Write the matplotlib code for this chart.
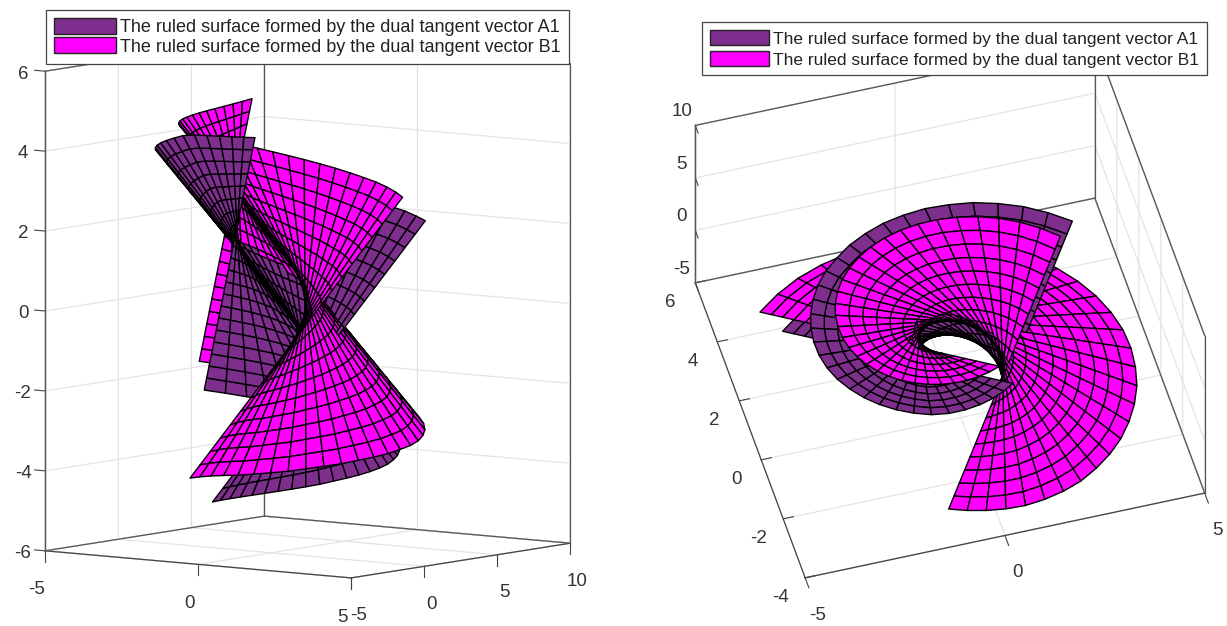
import numpy as np
import matplotlib
matplotlib.use("Agg")
import matplotlib.pyplot as plt
from matplotlib.patches import Patch
from matplotlib.transforms import Affine2D
from mpl_toolkits.mplot3d.art3d import Poly3DCollection

W, H = 1227, 626
plt.rcParams['font.family'] = ['Liberation Sans', 'DejaVu Sans']
plt.rcParams['axes.unicode_minus'] = False

# Ruling stations
curve_x = [.788, .866, .927, .970, .995, .999, .985, .951, .899, .829, .743, .643, .530, .407, .276, .139, 0,
           -.139, -.276, -.407, -.530, -.643, -.743, -.829, -.899, -.951, -.985, -.999, -.995, -.970, -.927, -.866, -.788]
curve_y = [-.616, -.500, -.375, -.242, -.105, .035, .174, .309, .438, .559, .669, .766, .848, .914, .961, .990, 1,
           .990, .961, .914, .848, .766, .669, .559, .438, .309, .174, .035, -.105, -.242, -.375, -.500, -.616]
curve_z_b1 = [-.86, -.72, -.58, -.44, -.31, -.17, -.03, .11, .25, .39, .53, .67, .81, .95, 1.09, 1.23, 1.37,
              1.51, 1.65, 1.79, 1.93, 2.07, 2.21, 2.35, 2.49, 2.63, 2.77, 2.91, 3.05, 3.19, 3.33, 3.47, 3.61]
curve_z_a1 = [-2.20, -2.06, -1.92, -1.78, -1.65, -1.51, -1.37, -1.23, -1.09, -.95, -.81, -.67, -.53, -.39, -.25, -.11, .03,
              .17, .31, .45, .59, .73, .87, 1.01, 1.15, 1.29, 1.43, 1.57, 1.71, 1.85, 1.99, 2.13, 2.27]
dir_x = [.616, .500, .375, .242, .105, -.035, -.174, -.309, -.438, -.559, -.669, -.766, -.848, -.914, -.961, -.990, -1,
         -.990, -.961, -.914, -.848, -.766, -.669, -.559, -.438, -.309, -.174, -.035, .105, .242, .375, .500, .616]
dir_y = [.788, .866, .927, .970, .995, .999, .985, .951, .899, .829, .743, .643, .530, .407, .276, .139, 0,
         -.139, -.276, -.407, -.530, -.643, -.743, -.829, -.899, -.951, -.985, -.999, -.995, -.970, -.927, -.866, -.788]
down_b1 = [3.17, 3.24, 3.32, 3.41, 3.50, 3.58, 3.66, 3.74, 3.80, 3.87, 3.94, 4.00, 4.07, 4.14, 4.20, 4.27, 4.33,
           4.38, 4.43, 4.47, 4.52, 4.57, 4.63, 4.70, 4.77, 4.83, 4.90, 4.97, 5.03, 5.10, 5.17, 5.23, 5.30]
up_b1 = [3.83, 3.77, 3.71, 3.65, 3.59, 3.53, 3.47, 3.41, 3.35, 3.29, 3.23, 3.17, 3.11, 3.05, 2.99, 2.93, 2.87,
         2.80, 2.74, 2.68, 2.62, 2.56, 2.50, 2.44, 2.38, 2.32, 2.26, 2.20, 2.14, 2.08, 2.02, 1.96, 1.90]
down_a1 = [2.43, 2.50, 2.57, 2.64, 2.70, 2.77, 2.84, 2.91, 2.98, 3.05, 3.11, 3.18, 3.25, 3.32, 3.39, 3.46, 3.52,
           3.59, 3.66, 3.73, 3.80, 3.87, 3.93, 4.00, 4.07, 4.14, 4.21, 4.28, 4.34, 4.41, 4.48, 4.55, 4.62]
up_a1 = [4.58, 4.50, 4.43, 4.35, 4.28, 4.20, 4.13, 4.05, 3.98, 3.90, 3.83, 3.75, 3.70, 3.64, 3.58, 3.53, 3.48,
         3.44, 3.40, 3.36, 3.32, 3.27, 3.23, 3.19, 3.15, 3.11, 3.07, 2.98, 2.85, 2.72, 2.58, 2.44, 2.30]

label_a1 = "The ruled surface formed by the dual tangent vector A1"
label_b1 = "The ruled surface formed by the dual tangent vector B1"
color_a1 = "#7E2F8E"
color_b1 = "#FF00FF"
rings = 21

def cells(cz, down, up):
    cx, cy, cz = np.array(curve_x), np.array(curve_y), np.array(cz)
    dx, dy = np.array(dir_x), np.array(dir_y)
    down, up = np.array(down), np.array(up)
    frac = np.linspace(0, 1, rings + 1)[:, None]
    s = -down + frac * (down + up)            # position along each ruling
    X, Y, Z = cx + s * dx, cy + s * dy, cz + s
    out = []
    for i in range(rings):
        for j in range(len(cx) - 1):
            out.append([(X[i, j], Y[i, j], Z[i, j]), (X[i + 1, j], Y[i + 1, j], Z[i + 1, j]),
                        (X[i + 1, j + 1], Y[i + 1, j + 1], Z[i + 1, j + 1]), (X[i, j + 1], Y[i, j + 1], Z[i, j + 1])])
    return out

def nudge(ax, axis, dx, dy):
    """Keep the tick labels native but shift them a few pixels on screen."""
    base = axis.get_major_ticks
    def patched(numticks=None):
        ticks = base(numticks)
        for t in ticks:
            t.label1.set_transform(ax.transData + Affine2D().translate(dx, dy))
        return ticks
    axis.get_major_ticks = patched

def panel(view, aspect, centre, lims, ticks, zside, nudges, tick_dirs, tick_out, back, legend_xy, legend_font, legend_gap):
    aspect = np.array(aspect, float)
    world = 1.8294640721620434 * 25 / 24 / np.linalg.norm(aspect)
    S = 1.85 / world
    left = centre[0] - S * 0.95 / 1.85
    bottom = (H - centre[1]) - S * 0.95 / 1.85
    ax = fig.add_axes([left / W, bottom / H, S / W, S / H], projection='3d', proj_type='ortho')
    ax.computed_zorder = False
    ax.patch.set_alpha(0)
    ax.set_box_aspect(aspect)
    ax.view_init(elev=view[0], azim=view[1])
    ax.set_xlim3d(*lims[0], view_margin=0)
    ax.set_ylim3d(*lims[1], view_margin=0)
    ax.set_zlim3d(*lims[2], view_margin=0)
    ax.set_xticks(ticks[0]); ax.set_yticks(ticks[1]); ax.set_zticks(ticks[2])
    # dark box edges over the grid lines that fall on the axis limits
    bx, by = back
    ox, oy = sum(lims[0]) - bx, sum(lims[1]) - by
    z0, z1 = lims[2]
    box = dict(color='#555555', lw=0.9, zorder=1)
    for px, py in ((bx, by), (ox, by), (bx, oy)):
        ax.plot([px, px], [py, py], [z0, z1], **box)
    for zz in (z0, z1):
        ax.plot([ox, bx], [by, by], [zz, zz], **box)
        ax.plot([bx, bx], [oy, by], [zz, zz], **box)
    a1 = cells(curve_z_a1, down_a1, up_a1)
    b1 = cells(curve_z_b1, down_b1, up_b1)
    pc = Poly3DCollection(a1 + b1, facecolors=[color_a1] * len(a1) + [color_b1] * len(b1),
                          edgecolors='#000000', linewidths=1.0, zsort='average', zorder=2)
    ax.add_collection3d(pc)
    for axis, nd, td, out in zip((ax.xaxis, ax.yaxis, ax.zaxis), nudges, tick_dirs, tick_out):
        axis.pane.set_facecolor((1, 1, 1, 0))
        axis.pane.set_edgecolor('#555555')
        axis.pane.set_linewidth(0.9)
        axis.line.set_color('#444444')
        axis.line.set_linewidth(0.9)
        axis._axinfo['grid'].update(color='#E4E4E4', linewidth=0.9)
        axis._axinfo['tick'].update(inward_factor=0.0, outward_factor=out, linewidth={True: 0.8, False: 0.5}, color='#444444')
        axis.set_tick_params(labelsize=13.5, labelcolor='#333333', pad=4, color='#444444')
        axis._get_tickdir = (lambda d: (lambda pos: d))(td)
        nudge(ax, axis, *nd)
    ax.zaxis.set_ticks_position(zside)
    h = [Patch(facecolor=color_a1, edgecolor='#222222', label=label_a1),
         Patch(facecolor=color_b1, edgecolor='#222222', label=label_b1)]
    fig.legend(handles=h, loc='upper left', bbox_to_anchor=(legend_xy[0] / W, 1 - legend_xy[1] / H),
               fontsize=legend_font, fancybox=False, framealpha=1, edgecolor='#444444', labelcolor='#222222',
               handlelength=3.4, handleheight=1.0, handletextpad=0.25, labelspacing=legend_gap,
               borderpad=0.45, borderaxespad=0).get_frame().set_linewidth(0.9)
    return ax

fig = plt.figure(figsize=(W / 100, H / 100), dpi=100)
panel((6.8, -53.2), (382, 366, 483), (307.75, 307.2),
      ((-5, 5), (-5, 10), (-6, 6)),
      ([-5, 0, 5], [-5, 0, 5, 10], [-6, -4, -2, 0, 2, 4, 6]), 'lower',
      ((1, -7), (-7, -6), (2, 6)), (2, 2, 0), (0.28, 0.28, 0.43), (-5, 10), (46, 10), 13.0, 0.05)
panel((49, -105.7), (415, 406, 240), (950, 309.25),
      ((-5, 5), (-4, 6), (-5, 10)),
      ([-5, 0, 5], [-4, -2, 0, 2, 4, 6], [-5, 0, 5, 10]), 'upper',
      ((7, -5), (-4, 2), (13, 11)), (1, 0, 1), (-0.42, 0.32, -0.32), (5, 6), (702, 22), 12.5, 0.25)
fig.savefig("out.png", dpi=100)
